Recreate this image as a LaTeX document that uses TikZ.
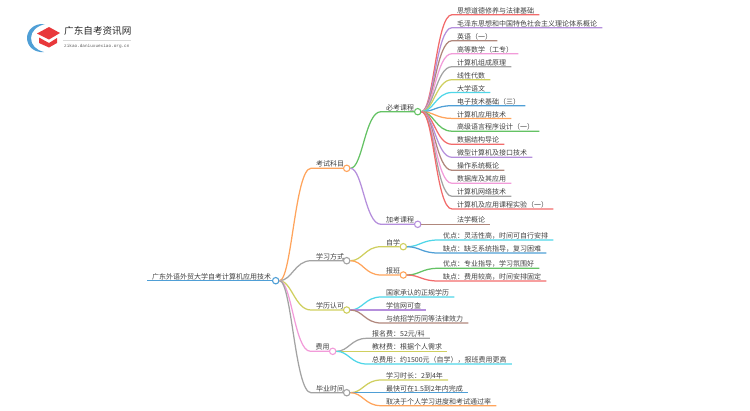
\documentclass[tikz,border=0pt]{standalone}
\usepackage{fontspec}
\setmainfont{Noto Sans CJK SC}
\newfontfamily\urlfont{Liberation Mono}
\definecolor{cRed}{HTML}{F26B6B}
\definecolor{cPurple}{HTML}{B58FDC}
\definecolor{cBrown}{HTML}{B0877C}
\definecolor{cPink}{HTML}{F29BD9}
\definecolor{cGray}{HTML}{A3A3A3}
\definecolor{cOlive}{HTML}{CFCF5F}
\definecolor{cCyan}{HTML}{4FD6E8}
\definecolor{cBlue}{HTML}{4F9FD6}
\definecolor{cOrange}{HTML}{FFA45C}
\definecolor{cGreen}{HTML}{64C264}
\definecolor{cLogo}{HTML}{E8383B}
\tikzset{
  lbl/.style={anchor=south west,inner xsep=5pt,inner ysep=0.6pt,text height=6.2pt,text depth=0.6pt,font=\fontsize{7}{8}\selectfont,text=black!75},
  hub/.style={circle,draw=#1,fill=white,line width=1.1pt,minimum size=6.4pt,inner sep=0pt},
  bough/.style={line width=1.25pt,#1},
}
\begin{document}
\begin{tikzpicture}[x=1pt,y=-1pt]
        \useasboundingbox (0,0) rectangle (750,410);
        % logo
        \fill [cBlue] (45,24) .. controls (33,23) and (27,31) .. (27,38) .. controls (27,46) and (34,53) .. (44,52) .. controls (36,50) and (31,45) .. (31,38) .. controls (31,31) and (37,26) .. (45,24) -- cycle;
        \fill [cLogo] (37,33.5) -- (49,27) -- (60,33) -- (49,39.5) -- cycle;
        \fill [cLogo] (39,37.5) -- (49,43) -- (57,38) -- (57,43) -- (49,47.5) -- (39,43) -- cycle;
        \draw [black!15,line width=0.4pt] (63,40) -- (131,40);
        \node [inner sep=0pt,anchor=west,text=black!85,font=\fontsize{9.6}{10}\selectfont] (logotitle) at (64,31) {广东自考资讯网};
        \node [inner sep=0pt,anchor=west,text=black!65,font=\urlfont\fontsize{4.35}{5}\selectfont] (logourl) at (64,46.5) {zikao.daniuxuexiao.org.cn};

        % hubs
        \node [hub=cBlue] (hRoot) at (275.7,280.7) {};
        \node [hub=cOrange] (hExam) at (346.7,168.3) {};
        \node [hub=cGray] (hStudy) at (346.7,260.7) {};
        \node [hub=cOlive] (hCert) at (346.7,310) {};
        \node [hub=cPink] (hFee) at (332.7,351.3) {};
        \node [hub=cGray] (hTime) at (346.7,392.7) {};
        \node [hub=cGreen] (hMust) at (417.7,111.7) {};
        \node [hub=cPurple] (hExtra) at (417.7,224.3) {};
        \node [hub=cOlive] (hSelf) at (403.3,246.7) {};
        \node [hub=cOrange] (hClass) at (403.3,275) {};

        % first levels
        \node [lbl] (root) at (147,280.7) {广东外语外贸大学自考计算机应用技术};
        \node [lbl] (exam) at (311,168.3) {考试科目};
        \node [lbl] (study) at (311,260.7) {学习方式};
        \node [lbl] (cert) at (311,310) {学历认可};
        \node [lbl] (fee) at (310.5,351.3) {费用};
        \node [lbl] (time) at (311,392.7) {毕业时间};
        \node [lbl] (must) at (381,111.7) {必考课程};
        \node [lbl] (extra) at (381,224.3) {加考课程};
        \node [lbl] (self) at (381,246.7) {自学};
        \node [lbl] (class) at (381,275) {报班};

        % required courses
        \node [lbl] (m1) at (452,14.7) {思想道德修养与法律基础};
        \node [lbl] (m2) at (452,27.7) {毛泽东思想和中国特色社会主义理论体系概论};
        \node [lbl] (m3) at (452,40.7) {英语（一）};
        \node [lbl] (m4) at (452,53.7) {高等数学（工专）};
        \node [lbl] (m5) at (452,66.7) {计算机组成原理};
        \node [lbl] (m6) at (452,79.7) {线性代数};
        \node [lbl] (m7) at (452,92.5) {大学语文};
        \node [lbl] (m8) at (452,105.7) {电子技术基础（三）};
        \node [lbl] (m9) at (452,118.4) {计算机应用技术};
        \node [lbl] (m10) at (452,131.2) {高级语言程序设计（一）};
        \node [lbl] (m11) at (452,144.3) {数据结构导论};
        \node [lbl] (m12) at (452,157.3) {微型计算机及接口技术};
        \node [lbl] (m13) at (452,170.3) {操作系统概论};
        \node [lbl] (m14) at (452,183.3) {数据库及其应用};
        \node [lbl] (m15) at (452,196.3) {计算机网络技术};
        \node [lbl] (m16) at (452,209) {计算机及应用课程实验（一）};
        \node [lbl] (e1) at (452,224.3) {法学概论};

        % the other leaves
        \node [lbl] (s1) at (438,240) {优点：灵活性高，时间可自行安排};
        \node [lbl] (s2) at (438,253) {缺点：缺乏系统指导，复习困难};
        \node [lbl] (s3) at (438,268.3) {优点：专业指导，学习氛围好};
        \node [lbl] (s4) at (438,281) {缺点：费用较高，时间安排固定};
        \node [lbl] (c1) at (381,297) {国家承认的正规学历};
        \node [lbl] (c2) at (381,310) {学信网可查};
        \node [lbl] (c3) at (381,323) {与统招学历同等法律效力};
        \node [lbl] (f1) at (367,338.3) {报名费：52元/科};
        \node [lbl] (f2) at (367,351.3) {教材费：根据个人需求};
        \node [lbl] (f3) at (367,364) {总费用：约1500元（自学），报班费用更高};
        \node [lbl] (t1) at (381,380) {学习时长：2到4年};
        \node [lbl] (t2) at (381,392.7) {最快可在1.5到2年内完成};
        \node [lbl] (t3) at (381,405.7) {取决于个人学习进度和考试通过率};

        % connectors
        \draw [bough=cBlue] (root.south west) -- (hRoot);
        \draw [bough=cOrange] (hRoot) .. controls +(16,0) and +(-16,0) .. (exam.south west) -- (hExam);
        \draw [bough=cGray] (hRoot) .. controls +(16,0) and +(-16,0) .. (study.south west) -- (hStudy);
        \draw [bough=cOlive] (hRoot) .. controls +(16,0) and +(-16,0) .. (cert.south west) -- (hCert);
        \draw [bough=cPink] (hRoot) .. controls +(16,0) and +(-16,0) .. (fee.south west) -- (hFee);
        \draw [bough=cGray] (hRoot) .. controls +(16,0) and +(-16,0) .. (time.south west) -- (hTime);
        \draw [bough=cGreen] (hExam) .. controls +(16,0) and +(-16,0) .. (must.south west) -- (hMust);
        \draw [bough=cPurple] (hExam) .. controls +(16,0) and +(-16,0) .. (extra.south west) -- (hExtra);
        \draw [bough=cOlive] (hStudy) .. controls +(16,0) and +(-16,0) .. (self.south west) -- (hSelf);
        \draw [bough=cOrange] (hStudy) .. controls +(16,0) and +(-16,0) .. (class.south west) -- (hClass);

        \draw [bough=cRed] (hMust) .. controls +(16,0) and +(-16,0) .. (m1.south west) -- (m1.south east);
        \draw [bough=cPurple] (hMust) .. controls +(16,0) and +(-16,0) .. (m2.south west) -- (m2.south east);
        \draw [bough=cBrown] (hMust) .. controls +(16,0) and +(-16,0) .. (m3.south west) -- (m3.south east);
        \draw [bough=cPink] (hMust) .. controls +(16,0) and +(-16,0) .. (m4.south west) -- (m4.south east);
        \draw [bough=cGray] (hMust) .. controls +(16,0) and +(-16,0) .. (m5.south west) -- (m5.south east);
        \draw [bough=cOlive] (hMust) .. controls +(16,0) and +(-16,0) .. (m6.south west) -- (m6.south east);
        \draw [bough=cCyan] (hMust) .. controls +(16,0) and +(-16,0) .. (m7.south west) -- (m7.south east);
        \draw [bough=cBlue] (hMust) .. controls +(16,0) and +(-16,0) .. (m8.south west) -- (m8.south east);
        \draw [bough=cOrange] (hMust) .. controls +(16,0) and +(-16,0) .. (m9.south west) -- (m9.south east);
        \draw [bough=cGreen] (hMust) .. controls +(16,0) and +(-16,0) .. (m10.south west) -- (m10.south east);
        \draw [bough=cRed] (hMust) .. controls +(16,0) and +(-16,0) .. (m11.south west) -- (m11.south east);
        \draw [bough=cPurple] (hMust) .. controls +(16,0) and +(-16,0) .. (m12.south west) -- (m12.south east);
        \draw [bough=cBrown] (hMust) .. controls +(16,0) and +(-16,0) .. (m13.south west) -- (m13.south east);
        \draw [bough=cPink] (hMust) .. controls +(16,0) and +(-16,0) .. (m14.south west) -- (m14.south east);
        \draw [bough=cGray] (hMust) .. controls +(16,0) and +(-16,0) .. (m15.south west) -- (m15.south east);
        \draw [bough=cRed] (hMust) .. controls +(16,0) and +(-16,0) .. (m16.south west) -- (m16.south east);
        \draw [bough=cBrown] (hExtra) -- (e1.south west) -- (e1.south east);

        \draw [bough=cCyan] (hSelf) .. controls +(16,0) and +(-16,0) .. (s1.south west) -- (s1.south east);
        \draw [bough=cBlue] (hSelf) .. controls +(16,0) and +(-16,0) .. (s2.south west) -- (s2.south east);
        \draw [bough=cGreen] (hClass) .. controls +(16,0) and +(-16,0) .. (s3.south west) -- (s3.south east);
        \draw [bough=cRed] (hClass) .. controls +(16,0) and +(-16,0) .. (s4.south west) -- (s4.south east);
        \draw [bough=cCyan] (hCert) .. controls +(16,0) and +(-16,0) .. (c1.south west) -- (c1.south east);
        \draw [bough=cPurple] (hCert) -- (c2.south west) -- (c2.south east);
        \draw [bough=cBrown] (hCert) .. controls +(16,0) and +(-16,0) .. (c3.south west) -- (c3.south east);
        \draw [bough=cGray] (hFee) .. controls +(16,0) and +(-16,0) .. (f1.south west) -- (f1.south east);
        \draw [bough=cOlive] (hFee) -- (f2.south west) -- (f2.south east);
        \draw [bough=cCyan] (hFee) .. controls +(16,0) and +(-16,0) .. (f3.south west) -- (f3.south east);
        \draw [bough=cOlive] (hTime) .. controls +(16,0) and +(-16,0) .. (t1.south west) -- (t1.south east);
        \draw [bough=cBlue] (hTime) -- (t2.south west) -- (t2.south east);
        \draw [bough=cOrange] (hTime) .. controls +(16,0) and +(-16,0) .. (t3.south west) -- (t3.south east);
      \end{tikzpicture}
\end{document}
